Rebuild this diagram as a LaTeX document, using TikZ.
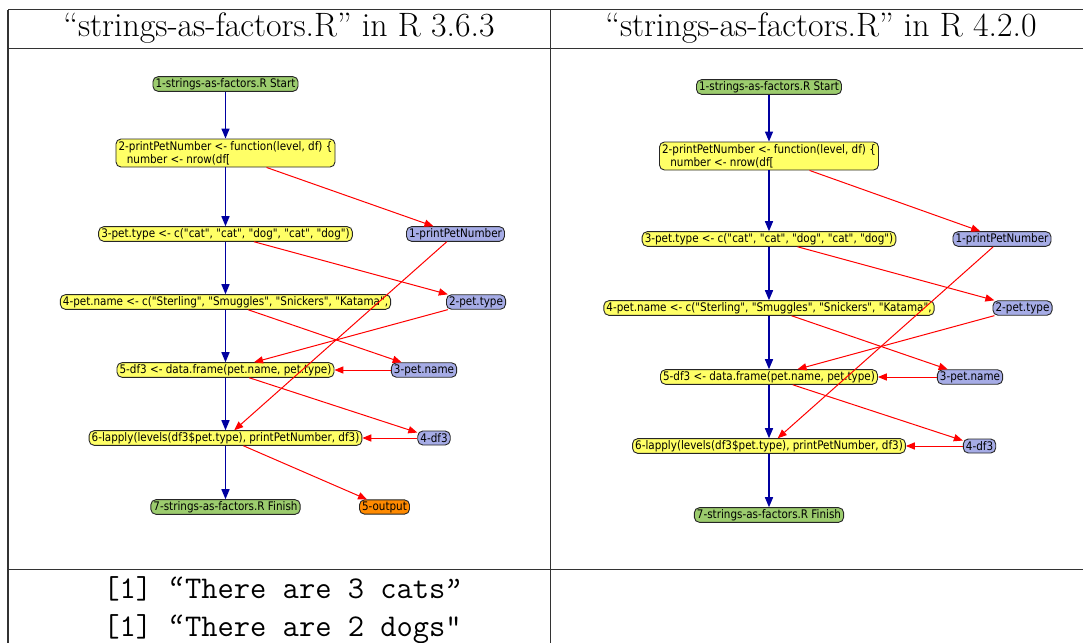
\documentclass[tikz,border=0pt]{standalone}
\usepackage{fontspec}
\usepackage{tikz}
\usetikzlibrary{arrows.meta}
\newfontfamily\ddgfont[FakeStretch=0.88]{DejaVu Sans}

\definecolor{scriptgreen}{RGB}{156,204,110}
\definecolor{stmtyellow}{RGB}{255,255,102}
\definecolor{datablue}{RGB}{166,172,230}
\definecolor{outorange}{RGB}{255,138,0}
\definecolor{flowblue}{RGB}{0,0,160}

\newcommand{\ttopen}{\makebox[0.525em][c]{‘\hspace{-0.33em}‘}}
\newcommand{\ttclose}{\makebox[0.525em][c]{’\hspace{-0.33em}’}}

\tikzstyle{ddg} = [rectangle, rounded corners=2.5pt, draw=black!85, line width=0.45pt, inner xsep=1.3pt, inner ysep=0.8pt, minimum height=7pt, font=\ddgfont\fontsize{5.9}{6.6}\selectfont]
\tikzstyle{script} = [ddg, fill=scriptgreen]
\tikzstyle{stmt} = [ddg, fill=stmtyellow]
\tikzstyle{datanode} = [ddg, fill=datablue]
\tikzstyle{outfile} = [ddg, fill=outorange]
\tikzstyle{flow} = [line width=0.7pt, draw=flowblue, -{Triangle[length=5pt,width=4pt]}]
\tikzstyle{dep} = [line width=0.5pt, draw=red, -{Triangle[length=4.5pt,width=3.6pt]}]
\tikzstyle{rule} = [line width=0.6pt, draw=black!80]
\tikzstyle{head} = [anchor=base, inner sep=0pt, font=\fontsize{16.9}{20}\selectfont]
\tikzstyle{console} = [anchor=base west, inner sep=0pt, font=\ttfamily\fontsize{15.8}{18}\selectfont]

\begin{document}
\begin{tikzpicture}[x=0.5pt, y=-0.5pt]
	\useasboundingbox (0,0) rectangle (1083,643);

	% table rules
	\draw [rule] (8,9.5) -- (1083,9.5);
	\draw [rule] (8,48.5) -- (1083,48.5);
	\draw [rule] (8,569.5) -- (1083,569.5);
	\draw [rule] (8,9.5) -- (8,643);
	\draw [rule] (550.5,9.5) -- (550.5,643);

	\node (hold) [head] at (279,36) {“strings-as-factors.R” in R 3.6.3};
	\node (hnew) [head] at (821,36) {“strings-as-factors.R” in R 4.2.0};

	% R 3.6.3
	\node (n1) [script] at (225.5,84) {1-strings-as-factors.R Start};
	\node (n2) [stmt, align=left, minimum height=14pt] at (225.5,153) {2-printPetNumber <- function(level, df) \{\\\hspace*{0.7em}number <- nrow(df[};
	\node (n3) [stmt] at (225.5,234) {3-pet.type <- c("cat", "cat", "dog", "cat", "dog")};
	\node (n4) [stmt] at (225.5,302) {4-pet.name <- c("Sterling", "Smuggles", "Snickers", "Katama",};
	\node (n5) [stmt] at (225.5,370) {5-df3 <- data.frame(pet.name, pet.type)};
	\node (n6) [stmt] at (225.5,438) {6-lapply(levels(df3\$pet.type), printPetNumber, df3)};
	\node (n7) [script] at (225.5,507) {7-strings-as-factors.R Finish};
	\node (p1) [datanode] at (455.5,234) {1-printPetNumber};
	\node (p2) [datanode] at (476,302) {2-pet.type};
	\node (p3) [datanode] at (424,370) {3-pet.name};
	\node (p4) [datanode] at (434,438) {4-df3};
	\node (p5) [outfile] at (384.5,507) {5-output};

	\draw [flow] (n1) -- (n2);
	\draw [flow] (n2) -- (n3);
	\draw [flow] (n3) -- (n4);
	\draw [flow] (n4) -- (n5);
	\draw [flow] (n5) -- (n6);
	\draw [flow] (n6) -- (n7);
	\draw [dep] (n2) -- (p1);
	\draw [dep] (n3) -- (p2);
	\draw [dep] (n4) -- (p3);
	\draw [dep] (p2) -- (n5);
	\draw [dep] (p3) -- (n5);
	\draw [dep] (p1) -- (n6);
	\draw [dep] (n5) -- (p4);
	\draw [dep] (p4) -- (n6);
	\draw [dep] (n6) -- (p5);

	% R 4.2.0
	\node (m1) [script] at (769,87) {1-strings-as-factors.R Start};
	\node (m2) [stmt, align=left, minimum height=14pt] at (769,156) {2-printPetNumber <- function(level, df) \{\\\hspace*{0.7em}number <- nrow(df[};
	\node (m3) [stmt] at (769,239) {3-pet.type <- c("cat", "cat", "dog", "cat", "dog")};
	\node (m4) [stmt] at (769,308) {4-pet.name <- c("Sterling", "Smuggles", "Snickers", "Katama",};
	\node (m5) [stmt] at (769,377) {5-df3 <- data.frame(pet.name, pet.type)};
	\node (m6) [stmt] at (769,446) {6-lapply(levels(df3\$pet.type), printPetNumber, df3)};
	\node (m7) [script] at (769,515) {7-strings-as-factors.R Finish};
	\node (q1) [datanode] at (1002,239) {1-printPetNumber};
	\node (q2) [datanode] at (1022.5,308) {2-pet.type};
	\node (q3) [datanode] at (970,377) {3-pet.name};
	\node (q4) [datanode] at (979.5,446) {4-df3};

	\draw [flow] (m1) -- (m2);
	\draw [flow] (m2) -- (m3);
	\draw [flow] (m3) -- (m4);
	\draw [flow] (m4) -- (m5);
	\draw [flow] (m5) -- (m6);
	\draw [flow] (m6) -- (m7);
	\draw [dep] (m2) -- (q1);
	\draw [dep] (m3) -- (q2);
	\draw [dep] (m4) -- (q3);
	\draw [dep] (q2) -- (m5);
	\draw [dep] (q3) -- (m5);
	\draw [dep] (q1) -- (m6);
	\draw [dep] (m5) -- (q4);
	\draw [dep] (q4) -- (m6);

	% console output
	\node (out1) [console] at (103,598) {[1] \ttopen There are 3 cats\ttclose};
	\node (out2) [console] at (103,636) {[1] \ttopen There are 2 dogs"};

\end{tikzpicture}
\end{document}
